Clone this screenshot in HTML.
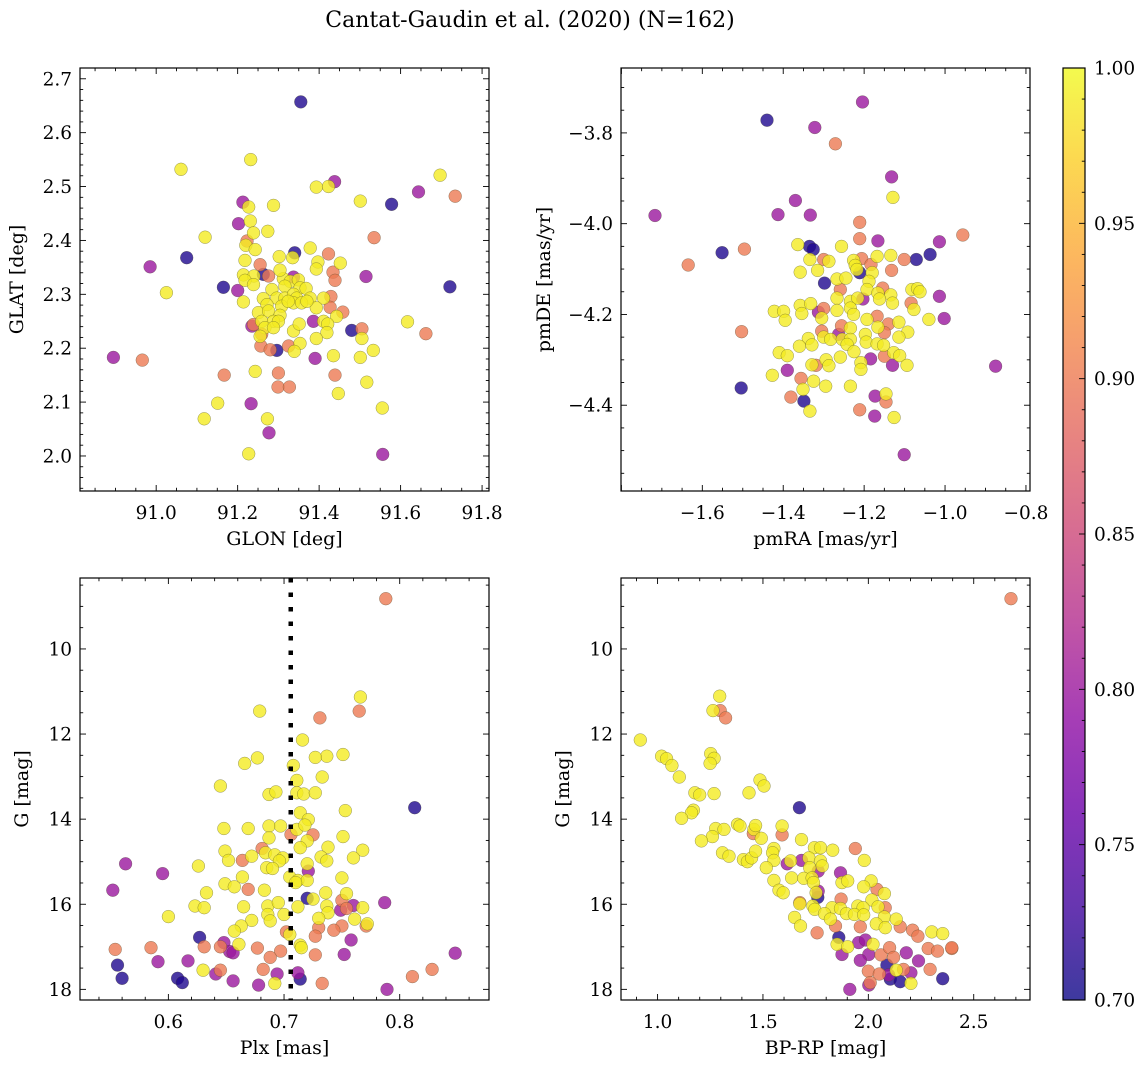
<!DOCTYPE html>
<html><head><meta charset="utf-8">
<style>
html,body{margin:0;padding:0;background:#fff;}
svg{display:block;font-family:"DejaVu Serif","Liberation Serif",serif;}
</style></head>
<body>
<svg id="fig" width="1148" height="1067" viewBox="0 0 1148 1067" xmlns="http://www.w3.org/2000/svg">
<defs>
<linearGradient id="plasma" x1="0" y1="1" x2="0" y2="0">
<stop offset="0" stop-color="#0d0887"/><stop offset="0.1" stop-color="#41049d"/><stop offset="0.2" stop-color="#6a00a8"/><stop offset="0.3" stop-color="#8f0da4"/><stop offset="0.4" stop-color="#b12a90"/><stop offset="0.5" stop-color="#cc4778"/><stop offset="0.6" stop-color="#e16462"/><stop offset="0.7" stop-color="#f2844b"/><stop offset="0.8" stop-color="#fca636"/><stop offset="0.9" stop-color="#fcce25"/><stop offset="1" stop-color="#f0f921"/>
</linearGradient>
</defs>
<text x="530" y="27" font-size="22" text-anchor="middle">Cantat-Gaudin et al. (2020) (N=162)</text>
</svg>
<script>
// ---------- Panel 1: GLON vs GLAT ----------
const p1Glon=[91.355,91.232,91.061,91.697,91.438,91.393,91.423,91.644,91.734,91.501,91.578,91.213,91.227,91.288,91.202,91.231,91.120,91.274,91.239,91.223,91.220,91.243,91.535,91.378,91.340,91.302,91.335,91.423,91.075,90.985,91.218,91.255,91.397,91.393,91.452,91.434,91.439,91.515,91.263,91.276,91.214,91.240,91.218,91.312,91.337,91.329,91.349,91.316,91.353,91.368,91.165,91.200,91.025,91.721,91.284,91.263,91.296,91.316,91.337,91.345,91.378,91.411,91.429,91.214,91.272,91.308,91.337,91.357,91.393,91.427,91.458,91.443,91.251,91.276,91.304,91.386,91.411,91.421,91.235,91.239,91.259,91.288,91.300,91.267,91.337,91.351,91.419,91.480,91.505,91.259,91.255,91.393,91.505,91.617,91.662,91.257,91.280,91.296,91.325,91.353,91.339,91.533,90.895,90.966,91.390,91.435,91.501,91.243,91.167,91.300,91.439,91.517,91.299,91.327,91.447,91.151,91.233,91.555,91.118,91.273,91.277,91.227,91.556,91.239,91.304,91.324,91.370,91.288];
const p1Glat=[2.657,2.550,2.532,2.521,2.509,2.499,2.500,2.490,2.482,2.473,2.467,2.471,2.462,2.465,2.431,2.436,2.406,2.417,2.414,2.399,2.391,2.383,2.405,2.386,2.377,2.370,2.368,2.375,2.368,2.351,2.363,2.355,2.360,2.347,2.358,2.341,2.326,2.333,2.337,2.334,2.336,2.334,2.326,2.329,2.332,2.324,2.327,2.315,2.312,2.311,2.313,2.307,2.303,2.314,2.309,2.292,2.293,2.293,2.300,2.293,2.293,2.293,2.296,2.286,2.281,2.278,2.284,2.284,2.275,2.276,2.267,2.259,2.266,2.269,2.261,2.250,2.250,2.245,2.241,2.244,2.250,2.250,2.250,2.238,2.232,2.245,2.229,2.233,2.236,2.226,2.222,2.218,2.218,2.249,2.227,2.204,2.197,2.196,2.204,2.209,2.194,2.196,2.183,2.178,2.181,2.186,2.183,2.157,2.150,2.154,2.150,2.137,2.128,2.128,2.116,2.098,2.097,2.089,2.069,2.069,2.043,2.004,2.003,2.318,2.345,2.287,2.287,2.238];
const p1Prob=[0.71,0.99,0.99,0.99,0.80,0.99,0.99,0.80,0.90,0.99,
0.71,0.80,0.99,0.99,0.80,0.99,0.99,0.99,0.99,0.90,
0.99,0.99,0.90,0.99,0.71,0.99,0.99,0.90,0.71,0.80,
0.99,0.90,0.99,0.99,0.99,0.90,0.90,0.80,0.71,0.90,
0.99,0.99,0.99,0.99,0.80,0.99,0.99,0.99,0.99,0.99,
0.71,0.80,0.99,0.71,0.99,0.99,0.99,0.99,0.99,0.99,
0.99,0.99,0.90,0.99,0.99,0.99,0.99,0.99,0.99,0.90,
0.90,0.99,0.99,0.99,0.99,0.80,0.99,0.99,0.80,0.90,
0.99,0.99,0.99,0.99,0.99,0.99,0.99,0.71,0.90,0.90,
0.99,0.99,0.99,0.99,0.90,0.90,0.90,0.71,0.90,0.99,
0.99,0.99,0.80,0.90,0.80,0.99,0.99,0.99,0.90,0.90,
0.90,0.99,0.90,0.90,0.99,0.99,0.80,0.99,0.99,0.99,
0.80,0.99,0.80,0.99,0.99,0.99,0.99,0.99];
const p1XTicks=[91.0,91.2,91.4,91.6,91.8];
const p1YTicks=[2.0,2.1,2.2,2.3,2.4,2.5,2.6,2.7];

// ---------- Panel 2: pmRA vs pmDE ----------
const p2Pmra=[-1.204,-1.440,-1.322,-1.271,-1.132,-1.129,-1.370,-1.717,-1.413,-1.333,
-1.211,-0.956,-1.211,-1.166,-1.014,-1.364,-1.335,-1.326,-1.256,-1.551,
-1.496,-1.037,-1.071,-1.101,-1.134,-1.168,-1.206,-1.226,-1.334,-1.300,
-1.287,-1.635,-1.222,-1.183,-1.358,-1.315,-1.218,-1.211,-1.180,-1.132,
-1.298,-1.267,-1.245,-1.188,-1.259,-1.193,-1.154,-1.166,-1.134,-1.082,
-1.068,-1.062,-1.014,-1.267,-1.234,-1.216,-1.203,-1.162,-1.084,-1.130,
-1.077,-1.422,-1.399,-1.358,-1.332,-1.313,-1.300,-1.354,-1.395,-1.305,
-1.267,-1.234,-1.226,-1.193,-1.168,-1.040,-1.002,-1.256,-1.234,-1.166,
-1.140,-1.114,-1.092,-1.150,-1.503,-1.305,-1.338,-1.300,-1.283,-1.263,
-1.254,-1.234,-1.197,-1.195,-1.168,-1.114,-1.360,-1.329,-1.242,-1.152,
-1.410,-1.390,-1.259,-1.225,-1.150,-1.127,-1.112,-1.184,-1.294,-1.329,
-1.319,-1.287,-1.208,-1.208,-1.130,-1.094,-0.875,-1.390,-1.427,-1.356,
-1.325,-1.295,-1.234,-1.351,-1.504,-1.381,-1.349,-1.173,-1.146,-1.146,
-1.334,-1.211,-1.174,-1.126,-1.101];
const p2Pmde=[-3.732,-3.772,-3.788,-3.824,-3.897,-3.942,-3.949,-3.982,-3.980,-3.981,
-3.997,-4.025,-4.033,-4.038,-4.040,-4.046,-4.050,-4.057,-4.050,-4.064,
-4.056,-4.068,-4.079,-4.079,-4.070,-4.072,-4.077,-4.081,-4.079,-4.079,
-4.083,-4.091,-4.092,-4.090,-4.107,-4.103,-4.101,-4.108,-4.108,-4.103,
-4.131,-4.122,-4.120,-4.127,-4.145,-4.145,-4.142,-4.153,-4.157,-4.145,
-4.143,-4.150,-4.160,-4.164,-4.171,-4.164,-4.166,-4.166,-4.175,-4.175,
-4.189,-4.193,-4.193,-4.180,-4.176,-4.195,-4.187,-4.198,-4.213,-4.208,
-4.191,-4.186,-4.200,-4.211,-4.204,-4.211,-4.209,-4.225,-4.230,-4.228,
-4.221,-4.217,-4.239,-4.240,-4.238,-4.237,-4.253,-4.250,-4.255,-4.244,
-4.255,-4.255,-4.244,-4.261,-4.265,-4.250,-4.270,-4.267,-4.266,-4.268,
-4.284,-4.291,-4.294,-4.282,-4.292,-4.284,-4.291,-4.298,-4.300,-4.311,
-4.312,-4.313,-4.306,-4.321,-4.312,-4.312,-4.314,-4.323,-4.334,-4.341,
-4.347,-4.358,-4.358,-4.365,-4.362,-4.382,-4.391,-4.380,-4.375,-4.393,
-4.413,-4.410,-4.424,-4.427,-4.509];
const p2Prob=[0.80,0.71,0.80,0.90,0.80,0.99,0.80,0.80,0.80,0.80,
0.90,0.90,0.90,0.80,0.80,0.99,0.71,0.71,0.99,0.71,
0.90,0.71,0.71,0.90,0.99,0.99,0.90,0.99,0.99,0.90,
0.99,0.90,0.99,0.90,0.99,0.99,0.99,0.71,0.99,0.90,
0.71,0.99,0.99,0.99,0.90,0.99,0.90,0.99,0.99,0.99,
0.99,0.99,0.80,0.99,0.99,0.99,0.80,0.99,0.90,0.99,
0.99,0.99,0.99,0.99,0.99,0.80,0.90,0.99,0.99,0.99,
0.99,0.99,0.99,0.99,0.90,0.99,0.80,0.90,0.99,0.99,
0.90,0.99,0.99,0.90,0.90,0.90,0.99,0.99,0.99,0.80,
0.99,0.99,0.99,0.99,0.99,0.99,0.99,0.99,0.99,0.99,
0.99,0.99,0.99,0.99,0.90,0.99,0.99,0.80,0.99,0.99,
0.90,0.99,0.99,0.99,0.80,0.99,0.80,0.80,0.99,0.90,
0.99,0.99,0.99,0.99,0.71,0.90,0.71,0.80,0.99,0.90,
0.99,0.90,0.80,0.99,0.80];
const p2XTicks=[-1.6,-1.4,-1.2,-1.0,-0.8];
const p2YTicks=[-4.4,-4.2,-4.0,-3.8];

// ---------- Panel 3: Plx vs G ----------
const p3Plx=[0.788,0.766,0.765,0.679,0.731,0.716,0.751,0.737,0.727,0.677,
0.666,0.708,0.711,0.733,0.645,0.687,0.693,0.711,0.717,0.727,
0.813,0.753,0.714,0.721,0.648,0.669,0.687,0.697,0.711,0.718,
0.706,0.725,0.687,0.751,0.681,0.720,0.714,0.738,0.649,0.672,
0.684,0.692,0.699,0.732,0.768,0.760,0.652,0.664,0.696,0.737,
0.720,0.563,0.626,0.685,0.690,0.721,0.595,0.664,0.705,0.750,
0.649,0.657,0.712,0.720,0.710,0.552,0.669,0.683,0.736,0.754,
0.633,0.720,0.725,0.750,0.760,0.787,0.623,0.631,0.665,0.686,
0.695,0.712,0.737,0.749,0.754,0.768,0.600,0.686,0.700,0.738,
0.672,0.688,0.730,0.761,0.771,0.772,0.663,0.657,0.730,0.750,
0.743,0.702,0.705,0.727,0.627,0.758,0.648,0.661,0.714,0.715,
0.554,0.585,0.631,0.645,0.677,0.697,0.653,0.656,0.727,0.752,
0.848,0.591,0.617,0.688,0.556,0.630,0.645,0.641,0.682,0.828,
0.560,0.608,0.612,0.656,0.694,0.712,0.714,0.811,0.678,0.692,
0.733,0.789];
const p3G=[8.82,11.13,11.46,11.46,11.62,12.14,12.48,12.52,12.55,12.56,
12.69,12.74,13.09,13.01,13.22,13.42,13.36,13.38,13.41,13.38,
13.73,13.80,13.85,14.01,14.22,14.22,14.16,14.16,14.24,14.14,
14.36,14.37,14.44,14.41,14.69,14.51,14.67,14.66,14.75,14.87,
14.79,14.84,14.91,14.89,14.73,14.91,14.97,14.97,14.98,14.98,
15.05,15.05,15.10,15.14,15.16,15.22,15.28,15.36,15.36,15.38,
15.52,15.59,15.44,15.44,15.49,15.67,15.65,15.67,15.73,15.75,
15.73,15.86,15.88,15.91,16.03,15.96,16.04,16.08,16.06,16.04,
15.96,16.06,16.04,16.14,16.10,16.08,16.29,16.24,16.24,16.20,
16.38,16.39,16.33,16.35,16.51,16.46,16.51,16.63,16.55,16.51,
16.61,16.65,16.71,16.75,16.78,16.84,16.90,16.94,16.96,17.02,
17.06,17.02,17.00,17.00,17.03,17.10,17.11,17.14,17.19,17.18,
17.15,17.35,17.33,17.25,17.43,17.55,17.55,17.64,17.53,17.53,
17.74,17.74,17.84,17.80,17.64,17.61,17.76,17.70,17.90,17.86,
17.86,18.00];
const p3Prob=[0.90,0.99,0.90,0.99,0.90,0.99,0.99,0.99,0.99,0.99,
0.99,0.99,0.99,0.99,0.99,0.99,0.99,0.99,0.99,0.99,
0.71,0.99,0.99,0.99,0.99,0.99,0.99,0.99,0.99,0.99,
0.90,0.90,0.99,0.99,0.90,0.99,0.99,0.99,0.99,0.99,
0.99,0.99,0.99,0.99,0.99,0.99,0.99,0.90,0.99,0.99,
0.99,0.80,0.99,0.99,0.99,0.80,0.80,0.99,0.99,0.99,
0.99,0.99,0.99,0.99,0.99,0.80,0.90,0.99,0.99,0.99,
0.99,0.71,0.99,0.90,0.80,0.80,0.99,0.99,0.99,0.99,
0.99,0.99,0.99,0.80,0.90,0.99,0.99,0.99,0.99,0.99,
0.99,0.99,0.99,0.99,0.90,0.99,0.99,0.99,0.90,0.90,
0.90,0.90,0.99,0.90,0.71,0.80,0.80,0.99,0.99,0.99,
0.90,0.90,0.90,0.90,0.90,0.90,0.80,0.80,0.90,0.80,
0.80,0.80,0.80,0.90,0.71,0.99,0.90,0.80,0.90,0.90,
0.71,0.71,0.71,0.80,0.80,0.80,0.71,0.90,0.80,0.99,
0.90,0.80];
const p3XTicks=[0.6,0.7,0.8];
const p3YTicks=[10,12,14,16,18];
const plxCut=[0.7058];

// ---------- Panel 4: BP-RP vs G ----------
const p4Bprp=[2.677,1.295,1.297,1.263,1.323,0.918,1.019,1.043,1.068,1.252,
1.268,1.249,1.103,1.486,1.505,1.177,1.200,1.268,1.434,1.673,
1.170,1.161,1.114,1.276,1.315,1.379,1.391,1.454,1.457,1.465,
1.591,1.591,1.260,1.208,1.492,1.683,1.938,1.744,1.773,1.831,
1.981,1.308,1.339,1.407,1.426,1.446,1.465,1.552,1.546,1.552,
1.516,1.615,1.631,1.683,1.718,1.773,1.781,1.762,1.722,1.868,
1.636,1.694,1.733,1.740,1.875,1.902,2.013,1.978,1.552,1.576,
1.596,1.762,1.752,2.041,2.076,1.760,1.675,1.675,1.871,2.017,
1.737,1.746,1.828,1.868,1.950,1.975,2.046,2.080,1.792,1.896,
1.934,1.978,2.076,2.132,1.650,1.678,1.820,1.844,1.962,2.038,
2.080,2.151,1.757,2.210,2.235,2.301,2.353,1.860,1.852,1.902,
1.954,1.986,2.022,1.875,2.002,2.060,2.101,2.120,2.180,2.238,
2.284,2.328,2.396,1.962,2.088,2.293,2.000,2.052,2.132,2.167,
2.202,2.096,2.104,2.151,2.202,2.009,2.002,2.353,1.912,2.396];
const p4G=[8.82,11.11,11.45,11.45,11.62,12.14,12.52,12.58,12.74,12.46,
12.57,12.69,13.01,13.08,13.22,13.38,13.43,13.40,13.38,13.73,
13.79,13.85,13.98,14.22,14.24,14.12,14.16,14.34,14.24,14.15,
14.16,14.37,14.41,14.51,14.45,14.48,14.69,14.67,14.67,14.73,
14.97,14.79,14.87,14.95,15.00,14.91,14.75,14.69,14.79,14.97,
15.14,15.05,14.98,14.97,14.91,14.98,15.10,15.22,15.14,15.26,
15.38,15.39,15.38,15.49,15.49,15.45,15.45,15.59,15.44,15.67,
15.73,15.69,15.73,15.65,15.75,15.84,15.96,15.99,15.88,15.90,
16.04,16.12,16.08,16.10,16.04,16.08,16.06,16.08,16.22,16.22,
16.24,16.25,16.30,16.35,16.31,16.51,16.35,16.51,16.53,16.46,
16.55,16.53,16.67,16.61,16.75,16.65,16.69,16.78,16.94,17.00,
16.90,16.84,16.94,17.18,17.18,17.19,17.02,17.25,17.14,17.33,
17.04,17.10,17.04,17.32,17.43,17.53,17.57,17.64,17.55,17.53,
17.61,17.66,17.76,17.82,17.86,17.84,17.90,17.75,18.00,17.02];
const p4Prob=[0.90,0.99,0.90,0.99,0.90,0.99,0.99,0.99,0.99,0.99,
0.99,0.99,0.99,0.99,0.99,0.99,0.99,0.99,0.99,0.71,
0.99,0.99,0.99,0.99,0.99,0.99,0.99,0.90,0.99,0.99,
0.99,0.90,0.99,0.99,0.99,0.99,0.90,0.99,0.99,0.99,
0.99,0.99,0.99,0.99,0.99,0.99,0.99,0.99,0.99,0.99,
0.99,0.80,0.99,0.80,0.99,0.99,0.99,0.80,0.99,0.80,
0.99,0.99,0.99,0.99,0.99,0.99,0.99,0.99,0.99,0.99,
0.99,0.80,0.99,0.90,0.99,0.71,0.90,0.99,0.90,0.99,
0.99,0.99,0.99,0.99,0.99,0.99,0.99,0.90,0.99,0.99,
0.99,0.99,0.99,0.99,0.99,0.99,0.99,0.90,0.90,0.99,
0.99,0.90,0.90,0.90,0.90,0.99,0.99,0.71,0.99,0.99,
0.80,0.80,0.99,0.80,0.80,0.90,0.90,0.90,0.80,0.80,
0.90,0.90,0.90,0.80,0.71,0.90,0.90,0.90,0.99,0.90,
0.80,0.80,0.71,0.71,0.99,0.90,0.80,0.71,0.80,0.90];
const p4XTicks=[1.0,1.5,2.0,2.5];
const p4YTicks=[10,12,14,16,18];

const cbTicks=[0.70,0.75,0.80,0.85,0.90,0.95,1.00];

const NS='http://www.w3.org/2000/svg';
const svg=document.getElementById('fig');
const PL=[[0,[13,8,135]],[0.1,[65,4,157]],[0.2,[106,0,168]],[0.3,[143,13,164]],[0.4,[177,42,144]],[0.5,[204,71,120]],[0.6,[225,100,98]],[0.7,[242,132,75]],[0.8,[252,166,54]],[0.9,[252,206,37]],[1,[240,249,33]]];
function plasma(t){t=Math.max(0,Math.min(1,t));for(let i=0;i<PL.length-1;i++){const a=PL[i],b=PL[i+1];if(t<=b[0]){const f=(t-a[0])/(b[0]-a[0]);const c=a[1].map((v,k)=>Math.round(v+(b[1][k]-v)*f));return 'rgb('+c.join(',')+')';}}return 'rgb(240,249,33)';}
function mk(tag,attrs,parent){const e=document.createElementNS(NS,tag);for(const k in attrs)e.setAttribute(k,attrs[k]);(parent||svg).appendChild(e);return e;}
function fmt(v,d){const s=Math.abs(v).toFixed(d);return (v<-1e-9?'\u2212':'')+s;}

const TFS=18.5, LFS=19;
function panel(name,box,xlim,ylim,invY,xt,yt,xminor,yminor,xd,yd,xs,ys,ps,xlabel,ylabel,ylabX){
  const sx=v=>box.x0+(v-xlim[0])/(xlim[1]-xlim[0])*(box.x1-box.x0);
  const sy=invY? v=>box.y0+(v-ylim[0])/(ylim[1]-ylim[0])*(box.y1-box.y0) : v=>box.y1-(v-ylim[0])/(ylim[1]-ylim[0])*(box.y1-box.y0);
  const g=mk('g',{});
  
  
  const idx=ps.map((p,i)=>i).sort((a,b)=>ps[a]-ps[b]);
  const pg=mk('g',{},g);
  
  
  idx.forEach(i=>{
    const c=mk('circle',{cx:sx(xs[i]).toFixed(1),cy:sy(ys[i]).toFixed(1),r:6.4,fill:plasma((ps[i]-0.7)/0.3),'fill-opacity':0.8,stroke:'rgba(70,70,40,0.55)','stroke-width':0.5},pg);
    
    
  });
  const tg=mk('g',{stroke:'#000','stroke-width':0.9},g);
  
  
  const xstep=xt[1]-xt[0];
  for(let v=xt[0]-xstep*3;v<=xlim[1]+1e-9;v+=xstep/xminor){
    if(v<xlim[0]-1e-9)continue;
    const maj=Math.abs((v-xt[0])/xstep-Math.round((v-xt[0])/xstep))<1e-6;
    const L=maj?6:3.2;const x=sx(v);
    mk('line',{x1:x,x2:x,y1:box.y1,y2:box.y1-L},tg);mk('line',{x1:x,x2:x,y1:box.y0,y2:box.y0+L},tg);
  }
  const ystep=yt[1]-yt[0];
  for(let v=yt[0]-ystep*3;v<=Math.max(ylim[0],ylim[1])+1e-9;v+=ystep/yminor){
    if(v<Math.min(ylim[0],ylim[1])-1e-9)continue;
    const maj=Math.abs((v-yt[0])/ystep-Math.round((v-yt[0])/ystep))<1e-6;
    const L=maj?6:3.2;const y=sy(v);
    mk('line',{x1:box.x0,x2:box.x0+L,y1:y,y2:y},tg);mk('line',{x1:box.x1,x2:box.x1-L,y1:y,y2:y},tg);
  }
  const fr=mk('rect',{x:box.x0,y:box.y0,width:box.x1-box.x0,height:box.y1-box.y0,fill:'none',stroke:'#000','stroke-width':1.2},g);
  
  
  xt.forEach(v=>{const t=mk('text',{x:sx(v),y:box.y1+28,'font-size':TFS,'text-anchor':'middle'},g);t.textContent=fmt(v,xd);
    
    });
  yt.forEach(v=>{const t=mk('text',{x:box.x0-8,y:sy(v)+6.5,'font-size':TFS,'text-anchor':'end'},g);t.textContent=fmt(v,yd);
    
    });
  const xl=mk('text',{x:(box.x0+box.x1)/2,y:box.y1+54,'font-size':LFS,'text-anchor':'middle'},g);xl.textContent=xlabel;
  
  
  const cy=(box.y0+box.y1)/2;
  const yl=mk('text',{x:ylabX,y:cy,'font-size':LFS,'text-anchor':'middle',transform:'rotate(-90 '+ylabX+' '+cy+')'},g);yl.textContent=ylabel;
  
  
  return {sx,sy,g};
}

panel('glon-glat',{x0:80,x1:489,y0:68,y1:491},[90.813,91.817],[1.935,2.72],false,p1XTicks,p1YTicks,4,5,1,1,p1Glon,p1Glat,p1Prob,'GLON [deg]','GLAT [deg]',23);
panel('pm',{x0:621,x1:1030,y0:68,y1:491},[-1.801,-0.790],[-4.589,-3.657],false,p2XTicks,p2YTicks,4,4,1,1,p2Pmra,p2Pmde,p2Prob,'pmRA [mas/yr]','pmDE [mas/yr]',550);
const p3=panel('plx-g',{x0:80,x1:489,y0:578,y1:1000},[0.5236,0.8772],[8.333,18.25],true,p3XTicks,p3YTicks,5,4,1,0,p3Plx,p3G,p3Prob,'Plx [mas]','G [mag]',28);
plxCut.forEach(v=>{const l=mk('line',{x1:p3.sx(v),x2:p3.sx(v),y1:578,y2:1000,stroke:'#000','stroke-width':4.5,'stroke-dasharray':'4.5 10'},p3.g);
  
  });
panel('cmd',{x0:621,x1:1030,y0:578,y1:1000},[0.8265,2.767],[8.333,18.25],true,p4XTicks,p4YTicks,5,4,1,0,p4Bprp,p4G,p4Prob,'BP-RP [mag]','G [mag]',569);

// colorbar
const cb=mk('g',{});


const cby=v=>1000-(v-0.7)/0.3*932;
mk('rect',{x:1063,y:68,width:22,height:932,fill:'url(#plasma)','fill-opacity':0.8},cb);
for(let v=0.70;v<=1.0001;v+=0.01){const maj=Math.abs(v*20-Math.round(v*20))<1e-6;const y=cby(v);
  mk('line',{x1:1085,x2:1085-(maj?6:3.2),y1:y,y2:y,stroke:'#000','stroke-width':0.9},cb);}
mk('rect',{x:1063,y:68,width:22,height:932,fill:'none',stroke:'#000','stroke-width':1.2},cb);
cbTicks.forEach(v=>{const t=mk('text',{x:1094,y:cby(v)+6.5,'font-size':TFS},cb);t.textContent=v.toFixed(2);
  
  });
</script>
</body></html>
